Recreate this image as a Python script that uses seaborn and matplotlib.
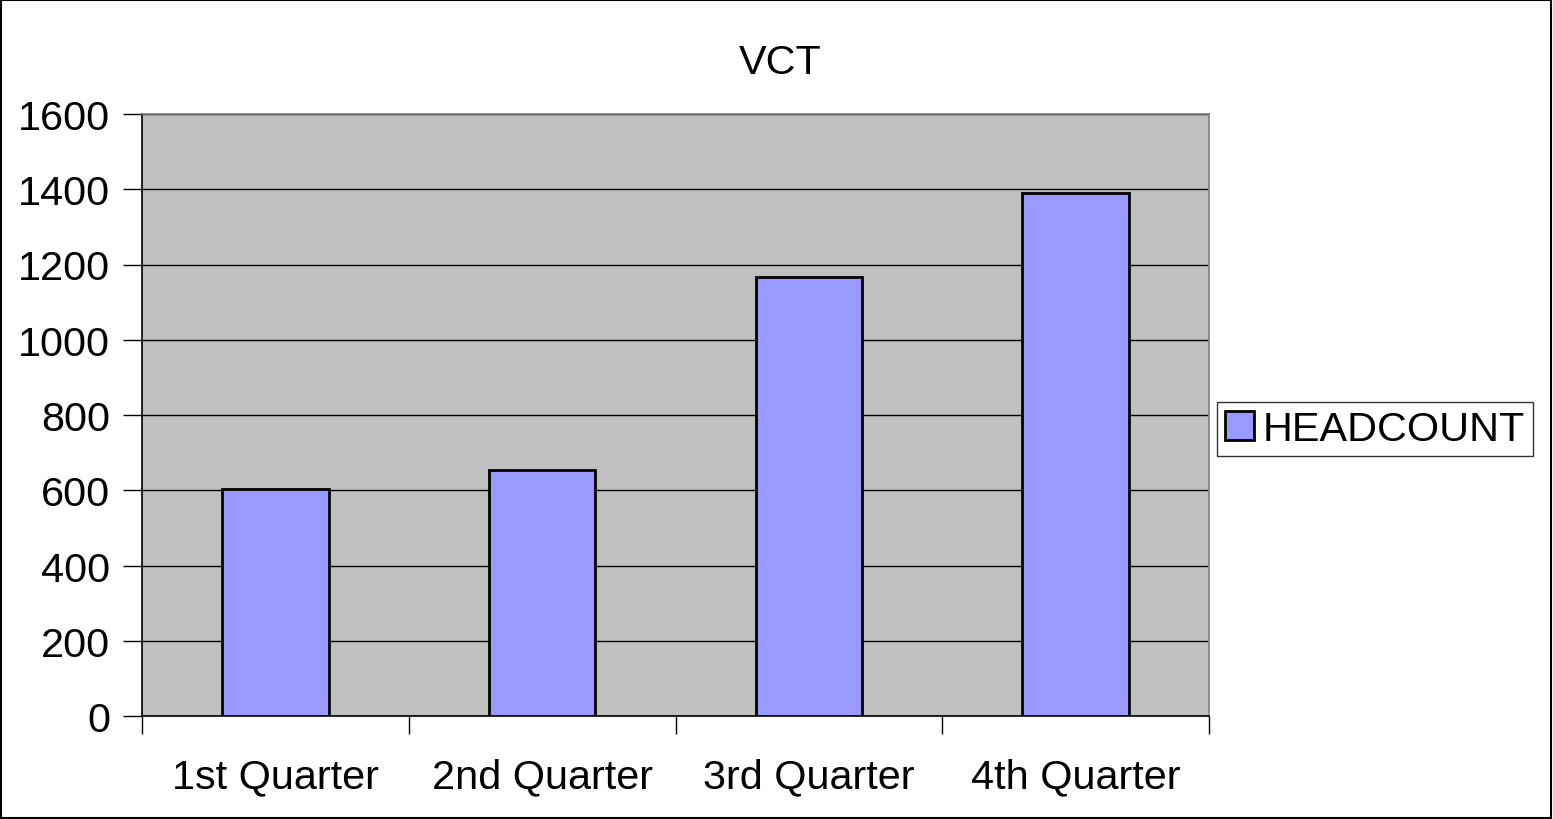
import pandas as pd
import seaborn as sns
import matplotlib.pyplot as plt
from matplotlib.patches import Rectangle

# data
quarters = ['1st Quarter', '2nd Quarter', '3rd Quarter', '4th Quarter']
headcount = [603, 653, 1168, 1389]
y_ticks = [0, 200, 400, 600, 800, 1000, 1200, 1400, 1600]

df = pd.DataFrame({'quarter': quarters, 'HEADCOUNT': headcount})

sns.set_style('white')
plt.rcParams['font.family'] = ['Liberation Sans', 'DejaVu Sans']
plt.rcParams['text.color'] = 'black'
plt.rcParams['xtick.labelcolor'] = 'black'
plt.rcParams['ytick.labelcolor'] = 'black'

fs = 29.8

fig = plt.figure(figsize=(15.53, 8.20), dpi=100)
ax = fig.add_axes([142 / 1553, 103 / 820, 1067 / 1553, 602 / 820])
ax.set_facecolor('#C0C0C0')

sns.barplot(data=df, x='quarter', y='HEADCOUNT', color='#9999FF', saturation=1,
            edgecolor='black', linewidth=2, width=0.4, ax=ax, label='HEADCOUNT', zorder=3)

ax.set_ylim(0, 1600)
ax.set_xlim(-0.5, 3.5)
ax.set_yticks(y_ticks)
ax.yaxis.grid(True, color='black', linewidth=1, zorder=0)
ax.set_axisbelow(True)
ax.tick_params(axis='y', labelsize=fs, length=14, width=1, color='black',
               direction='out', left=True, pad=9)
# category labels centred, tick marks on category boundaries
ax.tick_params(axis='x', which='major', labelsize=fs, length=0, pad=30)
ax.set_xticks([-0.5, 0.5, 1.5, 2.5, 3.5], minor=True)
ax.tick_params(axis='x', which='minor', length=13, width=1, color='black',
               direction='out', bottom=True)
ax.set_xlabel('')
ax.set_ylabel('')

for side in ['left', 'bottom']:
    ax.spines[side].set_color('black')
    ax.spines[side].set_linewidth(1.2)
for side in ['top', 'right']:
    ax.spines[side].set_color('#808080')
    ax.spines[side].set_linewidth(1.2)

fig.text(0.5025, 1 - 63 / 820, 'VCT', ha='center', va='center', fontsize=fs)

leg = ax.legend(loc='center left', bbox_to_anchor=(1217 / 1553, 1 - 430 / 820),
                bbox_transform=fig.transFigure, fontsize=fs, frameon=True,
                fancybox=False, edgecolor='black', handlelength=0.7, handleheight=0.7,
                handletextpad=0.2, borderpad=0.2, borderaxespad=0)
leg.get_frame().set_linewidth(1)

fig.patches.append(Rectangle((0.0005, 0.001), 0.998, 0.998, transform=fig.transFigure,
                             fill=False, edgecolor='black', linewidth=1.5))

fig.savefig('out.png', dpi=100)
